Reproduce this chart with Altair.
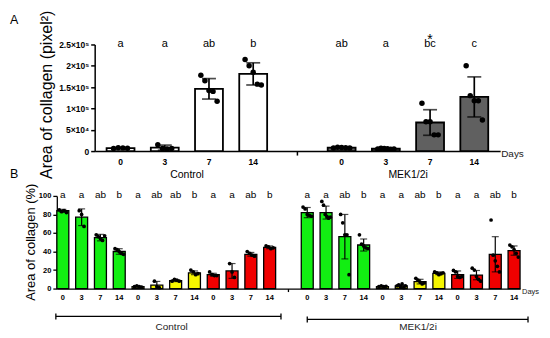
import altair as alt
import pandas as pd

FONT = "Liberation Sans"
days = ["0", "3", "7", "14"]

# ---------------- Panel A : area of collagen (pixel^2) ----------------
a_ctrl_mean = [7000, 8000, 146000, 181000]
a_ctrl_sd = [1000, 6000, 24000, 26000]
a_ctrl_pts = [
    [6000, 8000, 7500, 6500],
    [15000, 6000, 5000, 6000],
    [178000, 165000, 142000, 140000, 117000],
    [215000, 200000, 185000, 157000, 155000],
]
a_ctrl_letters = ["a", "a", "ab", "b"]

a_mek_mean = [8000, 5500, 67000, 127000]
a_mek_sd = [1000, 1000, 30000, 47000]
a_mek_pts = [
    [7000, 9000, 8500, 8000, 7500],
    [5000, 6500, 6000, 5500, 4500, 5000],
    [112000, 69000, 69000, 38000, 38000],
    [200000, 130000, 118000, 118000, 73000],
]
a_mek_letters = ["ab", "a", "bc", "c"]
a_star_day = "7"
a_fill = {"C": "#ffffff", "M": "#606060"}
a_group_names = {"C": "Control", "M": "MEK1/2i"}
a_ytitle = "Area of collagen (pixel²)"
a_ytick_vals = [0, 50000, 100000, 150000, 200000, 250000]
a_ytick_text = ["0", "5×10⁴", "1×10⁵", "1.5×10⁵", "2×10⁵", "2.5×10⁵"]

# ---------------- Panel B : area of collagen (%) ----------------
b_colors = ["G", "Y", "R"]
b_fill = {"G": "#12ee12", "Y": "#f5f500", "R": "#f00000"}
b_mean = {
    "C": {"G": [84, 77, 55, 40], "Y": [2, 3.7, 8.5, 17], "R": [15, 19, 37, 44.5]},
    "M": {"G": [82, 82, 56, 47], "Y": [2, 3, 7.5, 16.5], "R": [15, 14.5, 37, 41]},
}
b_sd = {
    "C": {"G": [1.5, 9, 3.5, 3], "Y": [0.5, 4, 1, 2], "R": [1.5, 8, 2, 1.5]},
    "M": {"G": [5.5, 7, 24, 6.5], "Y": [0.5, 1, 2.5, 1.5], "R": [4, 5, 19, 5]},
}
b_pts = {
    "C": {
        "G": [[85, 83, 84, 82], [84, 80, 67], [58, 56, 54, 52, 57], [43, 42, 40, 38, 37]],
        "Y": [[2, 3, 2, 1.5], [8, 2, 1], [8, 10, 9, 8], [20, 18, 15, 16]],
        "R": [[18, 15, 14, 14], [27, 18, 12], [40, 38, 36, 35], [46, 45, 43, 44]],
    },
    "M": {
        "G": [[88, 86, 80, 79, 78], [94, 90, 80, 78, 76, 77], [80, 71, 58, 58, 15], [58, 48, 46, 44, 43]],
        "Y": [[2, 3, 2, 2.5], [3, 4, 2, 5, 1, 3], [11, 9, 7, 5, 6], [18, 17, 15, 16, 17]],
        "R": [[19.6, 18, 13, 12, 13], [22, 20, 13, 10, 8], [74, 36, 30, 24, 18], [47, 45, 42, 38, 34]],
    },
}
b_letters = {
    "C": {"G": ["a", "a", "ab", "b"], "Y": ["a", "ab", "ab", "b"], "R": ["a", "a", "ab", "b"]},
    "M": {"G": ["a", "a", "ab", "b"], "Y": ["a", "a", "ab", "b"], "R": ["a", "a", "ab", "b"]},
}
b_group_names = {"C": "Control", "M": "MEK1/2i"}
b_ytitle = "Area of collagen (%)"
b_ytick_vals = [0, 20, 40, 60, 80, 100]

GAP = "gap|"


def offsets(n):
    sp = min(2.0, 7.0 / max(n - 1, 1))
    return [(i - (n - 1) / 2) * sp for i in range(n)]


# ---------- build panel A tables ----------
a_slots, a_rows, a_prow = [], [], []
for g, means, sds, pts, lets in [("C", a_ctrl_mean, a_ctrl_sd, a_ctrl_pts, a_ctrl_letters),
                                 ("M", a_mek_mean, a_mek_sd, a_mek_pts, a_mek_letters)]:
    if g == "M":
        a_slots.append(GAP)
    for d, m, s, p, l in zip(days, means, sds, pts, lets):
        key = f"{g}|{d}"
        a_slots.append(key)
        a_rows.append({"slot": key, "mean": m, "lo": m - s, "hi": m + s, "fill": a_fill[g], "letter": l,
                       "star": "*" if (g == "M" and d == a_star_day) else ""})
        for v, o in zip(p, offsets(len(p))):
            a_prow.append({"slot": key, "value": v, "off": o})
a_df = pd.DataFrame(a_rows)
a_pdf = pd.DataFrame(a_prow)

# ---------- build panel B tables ----------
b_slots, b_rows, b_prow = [], [], []
for g in ["C", "M"]:
    if g == "M":
        b_slots.append(GAP)
    for c in b_colors:
        for i, d in enumerate(days):
            key = f"{g}|{c}|{d}"
            b_slots.append(key)
            m = b_mean[g][c][i]
            s = b_sd[g][c][i]
            b_rows.append({"slot": key, "mean": m, "lo": max(m - s, 0), "hi": m + s,
                           "fill": b_fill[c], "letter": b_letters[g][c][i]})
            p = b_pts[g][c][i]
            for v, o in zip(p, offsets(len(p))):
                b_prow.append({"slot": key, "value": v, "off": o})
b_df = pd.DataFrame(b_rows)
b_pdf = pd.DataFrame(b_prow)

tick_cond = {"condition": {"test": "datum.value === 'gap|'", "value": "black"}, "value": "transparent"}

# ================= PANEL A =================
WA, HA = 445, 107
A_PI, A_PO = 0.37, 0.27
xa_scale = alt.Scale(domain=a_slots, range=[38, 445], paddingInner=A_PI, paddingOuter=A_PO)
a_bw = (445 - 38) / (len(a_slots) - A_PI + 2 * A_PO) * (1 - A_PI)
ya_scale = alt.Scale(domain=[0, 250000], nice=False)
xa_axis = alt.Axis(title=None, labelExpr="peek(split(datum.value, '|'))", labelAngle=0,
                   labelFont=FONT, labelFontWeight="bold", labelFontSize=8.5, labelColor="black",
                   domainColor="black", domainWidth=1.5, tickColor=tick_cond, tickWidth=1.5,
                   tickSize=4, labelPadding=2)
ya_label_expr = " : ".join(f"datum.value == {v} ? '{t}'" for v, t in zip(a_ytick_vals, a_ytick_text)) + " : ''"
ya_axis = alt.Axis(title=None, values=a_ytick_vals, labelExpr=ya_label_expr,
                   offset=-38, grid=False, labelFont=FONT, labelFontWeight="bold", labelFontSize=8.5,
                   labelColor="black", domainColor="black", domainWidth=1.5, tickColor="black",
                   tickWidth=1.5, tickSize=4, labelPadding=2)


def xa():
    return alt.X("slot:N", scale=xa_scale, axis=xa_axis)


def ya(f):
    return alt.Y(f"{f}:Q", scale=ya_scale, axis=ya_axis)


a_bars = alt.Chart(a_df).mark_bar(stroke="black", strokeWidth=1.8, width=28).encode(
    x=xa(), y=ya("mean"), fill=alt.Fill("fill:N", scale=None))
a_err = alt.Chart(a_df).mark_rule(color="black", strokeWidth=1.7).encode(x=xa(), y=ya("lo"), y2="hi")
a_cap_hi = alt.Chart(a_df).mark_tick(color="black", size=14, thickness=1.7).encode(x=xa(), y=ya("hi"))
a_cap_lo = alt.Chart(a_df).mark_tick(color="black", size=14, thickness=1.7).encode(x=xa(), y=ya("lo"))
a_pts = alt.Chart(a_pdf).mark_circle(color="black", opacity=1, size=30).encode(
    x=xa(), y=ya("value"),
    xOffset=alt.XOffset("off:Q", scale=alt.Scale(domain=[-6, 6], range=[0, a_bw])))
a_let = alt.Chart(a_df).mark_text(font=FONT, fontSize=11, baseline="middle", color="black").encode(
    x=xa(), y=alt.value(0), text="letter:N")
a_star = alt.Chart(a_df).mark_text(font=FONT, fontSize=14, baseline="middle", color="black").encode(
    x=xa(), y=alt.value(-4), text="star:N")
a_days = alt.Chart(pd.DataFrame({"t": ["Days"]})).mark_text(
    font=FONT, fontSize=10, align="left", baseline="middle", color="#222").encode(
    x=alt.value(WA + 1), y=alt.value(HA + 2.5), text="t:N")
a_grp = alt.Chart(pd.DataFrame({"slot": ["C|7", "M|7"], "t": [a_group_names["C"], a_group_names["M"]]})).mark_text(
    font=FONT, fontSize=10.5, baseline="middle", color="black", dx=-22).encode(
    x=xa(), y=alt.value(131), text="t:N")
a_panel = alt.Chart(pd.DataFrame({"t": ["A", "B"], "yy": [-24.5, 130]})).mark_text(
    font=FONT, fontSize=12.5, align="left", baseline="middle", color="black").encode(
    x=alt.value(-47), y=alt.Y("yy:Q", scale=None, axis=None), text="t:N")
a_title = alt.Chart(pd.DataFrame({"t": [a_ytitle]})).mark_text(
    font=FONT, fontSize=16, angle=270, align="center", baseline="middle", color="black").encode(
    x=alt.value(-10), y=alt.value(HA / 2 - 3), text="t:N")

chart_a = alt.layer(a_bars, a_err, a_cap_hi, a_cap_lo, a_pts, a_let, a_star, a_days, a_grp,
                    a_panel, a_title).properties(width=WA, height=HA)

# ================= PANEL B =================
WB, HB = 465, 93
B_PI = 0.36
xb_scale = alt.Scale(domain=b_slots, paddingInner=B_PI, paddingOuter=0)
b_bw = WB / (len(b_slots) - B_PI) * (1 - B_PI)
yb_scale = alt.Scale(domain=[0, 100], nice=False)
xb_axis = alt.Axis(title=None, labelExpr="peek(split(datum.value, '|'))", labelAngle=0,
                   labelFont=FONT, labelFontWeight="bold", labelFontSize=7.5, labelColor="black",
                   domainColor="black", domainWidth=1.3, tickColor=tick_cond, tickWidth=1.3,
                   tickSize=3, labelPadding=2)
yb_axis = alt.Axis(title=None, values=b_ytick_vals, grid=False, labelFont=FONT,
                   labelFontWeight="bold", labelFontSize=7.5, labelColor="black", domainColor="black",
                   domainWidth=1.3, tickColor="black", tickWidth=1.3, tickSize=4, labelPadding=2)


def xb():
    return alt.X("slot:N", scale=xb_scale, axis=xb_axis)


def yb(f):
    return alt.Y(f"{f}:Q", scale=yb_scale, axis=yb_axis)


b_bars = alt.Chart(b_df).mark_bar(stroke="black", strokeWidth=1.3, width=12).encode(
    x=xb(), y=yb("mean"), fill=alt.Fill("fill:N", scale=None))
b_err = alt.Chart(b_df).mark_rule(color="black", strokeWidth=1.2).encode(x=xb(), y=yb("lo"), y2="hi")
b_cap_hi = alt.Chart(b_df).mark_tick(color="black", size=7, thickness=1.2).encode(x=xb(), y=yb("hi"))
b_cap_lo = alt.Chart(b_df).mark_tick(color="black", size=7, thickness=1.2).encode(x=xb(), y=yb("lo"))
b_pts = alt.Chart(b_pdf).mark_circle(color="black", opacity=1, size=14).encode(
    x=xb(), y=yb("value"),
    xOffset=alt.XOffset("off:Q", scale=alt.Scale(domain=[-5, 5], range=[0, b_bw])))
b_let = alt.Chart(b_df).mark_text(font=FONT, fontSize=10, baseline="middle", color="black").encode(
    x=xb(), y=alt.value(-1), text="letter:N")
b_days = alt.Chart(pd.DataFrame({"t": ["Days"]})).mark_text(
    font=FONT, fontSize=7.5, align="left", baseline="middle", color="#222").encode(
    x=alt.value(WB + 2), y=alt.value(HB + 3), text="t:N")
b_title = alt.Chart(pd.DataFrame({"t": [b_ytitle]})).mark_text(
    font=FONT, fontSize=13, angle=270, align="center", baseline="middle", color="black").encode(
    x=alt.value(-26), y=alt.value(HB / 2), text="t:N")

br_ctrl = pd.DataFrame({"s": ["C|G|0"], "e": [GAP]})
br_mek = pd.DataFrame({"s": ["M|G|0"], "e": ["M|R|14"]})
b_line_c = alt.Chart(br_ctrl).mark_rule(color="black", strokeWidth=1.3, xOffset=-7, x2Offset=-7.5).encode(
    x=alt.X("s:N", scale=xb_scale, axis=xb_axis), x2="e:N", y=alt.value(121))
b_capl_c = alt.Chart(br_ctrl).mark_rule(color="black", strokeWidth=1.3, xOffset=-7).encode(
    x=alt.X("s:N", scale=xb_scale, axis=xb_axis), y=alt.value(118), y2=alt.value(124))
b_capr_c = alt.Chart(br_ctrl).mark_rule(color="black", strokeWidth=1.3, xOffset=-7.5).encode(
    x=alt.X("e:N", scale=xb_scale, axis=xb_axis), y=alt.value(118), y2=alt.value(124))
b_line_m = alt.Chart(br_mek).mark_rule(color="black", strokeWidth=1.3, xOffset=0, x2Offset=14).encode(
    x=alt.X("s:N", scale=xb_scale, axis=xb_axis), x2="e:N", y=alt.value(124))
b_capl_m = alt.Chart(br_mek).mark_rule(color="black", strokeWidth=1.3, xOffset=0).encode(
    x=alt.X("s:N", scale=xb_scale, axis=xb_axis), y=alt.value(121), y2=alt.value(127))
b_capr_m = alt.Chart(br_mek).mark_rule(color="black", strokeWidth=1.3, xOffset=14).encode(
    x=alt.X("e:N", scale=xb_scale, axis=xb_axis), y=alt.value(121), y2=alt.value(127))
b_grp_c = alt.Chart(pd.DataFrame({"slot": ["C|Y|7"], "t": [b_group_names["C"]]})).mark_text(
    font=FONT, fontSize=10, baseline="middle", color="#222", dx=-4).encode(
    x=xb(), y=alt.value(132), text="t:N")
b_grp_m = alt.Chart(pd.DataFrame({"slot": ["M|Y|7"], "t": [b_group_names["M"]]})).mark_text(
    font=FONT, fontSize=10, baseline="middle", color="#222", dx=-2).encode(
    x=xb(), y=alt.value(132), text="t:N")

chart_b = alt.layer(b_bars, b_err, b_cap_hi, b_cap_lo, b_pts, b_let, b_days, b_title,
                    b_line_c, b_capl_c, b_capr_c, b_line_m, b_capl_m, b_capr_m,
                    b_grp_c, b_grp_m).properties(width=WB, height=HB)

chart = alt.vconcat(chart_a, chart_b, spacing=45, bounds="flush").resolve_scale(
    xOffset="independent"
).properties(
    padding={"left": 2, "top": 2, "right": 2, "bottom": 2}, background="white"
).configure_view(stroke=None)

chart.save("out.html", embed_options={"renderer": "svg", "actions": False})
